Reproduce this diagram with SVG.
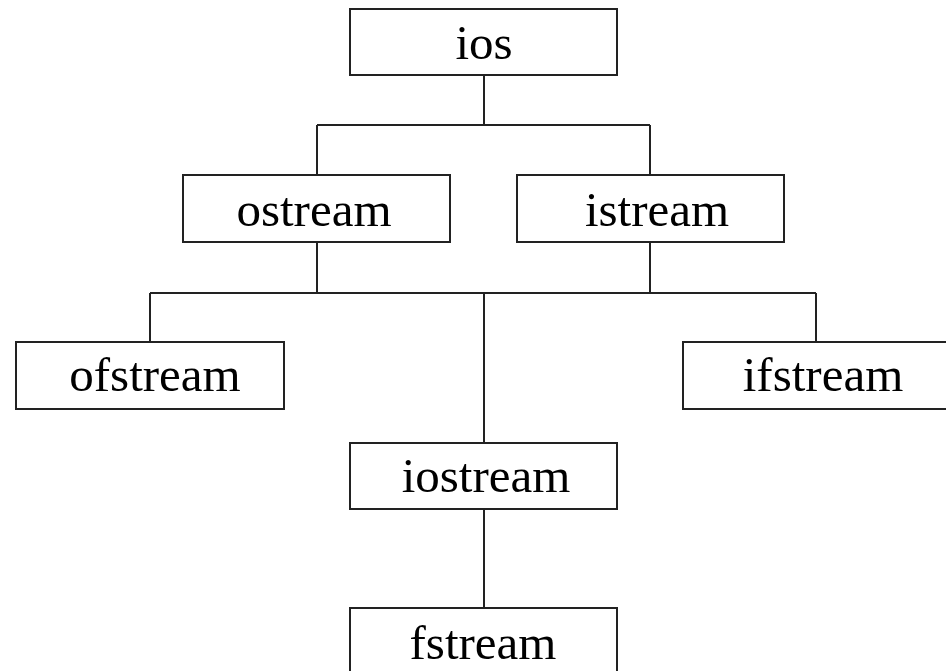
<svg xmlns="http://www.w3.org/2000/svg" width="946" height="671" viewBox="0 0 946 671">
<style>
.box{fill:#fff;stroke:#222;stroke-width:2}
.lbl{font-family:"Liberation Serif","Times New Roman",serif;font-size:49px;fill:#000;text-anchor:middle}
.conn{fill:none;stroke:#222;stroke-width:2}
</style>
<rect width="946" height="671" fill="#fff"/>
<g id="connectors" class="conn">
<path d="M484 75V125M317 125H650M317 125V175M650 125V175"/>
<path d="M317 242V293M650 242V293M150 293H816M150 293V342M816 293V342M484 293V443"/>
<path d="M484 509V608"/>
</g>
<g id="ios"><rect class="box" x="350" y="9" width="267" height="66"/><text class="lbl" x="484" y="59">ios</text></g>
<g id="ostream"><rect class="box" x="183" y="175" width="267" height="67"/><text class="lbl" x="314" y="226">ostream</text></g>
<g id="istream"><rect class="box" x="517" y="175" width="267" height="67"/><text class="lbl" x="657" y="226">istream</text></g>
<g id="ofstream"><rect class="box" x="16" y="342" width="268" height="67"/><text class="lbl" x="155" y="391">ofstream</text></g>
<g id="ifstream"><rect class="box" x="683" y="342" width="270" height="67"/><text class="lbl" x="823" y="391">ifstream</text></g>
<g id="iostream"><rect class="box" x="350" y="443" width="267" height="66"/><text class="lbl" x="486" y="492">iostream</text></g>
<g id="fstream"><rect class="box" x="350" y="608" width="267" height="70"/><text class="lbl" x="483" y="659">fstream</text></g>
</svg>
